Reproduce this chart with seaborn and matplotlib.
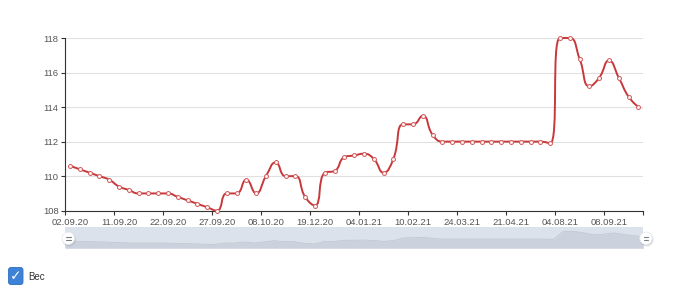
import numpy as np
import pandas as pd
import matplotlib
matplotlib.use("Agg")
import matplotlib.pyplot as plt
from matplotlib.path import Path
from matplotlib.patches import PathPatch, FancyBboxPatch, Circle
from matplotlib.lines import Line2D
from matplotlib.transforms import IdentityTransform
import seaborn as sns

# ---------------- data ----------------
weights = [110.6, 110.4, 110.2, 110.0, 109.8, 109.4, 109.2, 109.0, 109.0, 109.0,
           109.0, 108.8, 108.6, 108.4, 108.2, 108.0, 109.0, 109.0, 109.8, 109.0,
           110.0, 110.8, 110.0, 110.0, 108.8, 108.3, 110.2, 110.3, 111.1, 111.2,
           111.3, 111.0, 110.2, 111.0, 113.0, 113.0, 113.5, 112.4, 112.0, 112.0,
           112.0, 112.0, 112.0, 112.0, 112.0, 112.0, 112.0, 112.0, 112.0, 111.9,
           118.0, 118.0, 116.8, 115.2, 115.7, 116.7, 115.7, 114.6, 114.0]
tick_labels = ["02.09.20", "11.09.20", "22.09.20", "27.09.20", "08.10.20", "19.12.20",
               "04.01.21", "10.02.21", "24.03.21", "21.04.21", "04.08.21", "08.09.21"]
y_ticks = [108, 110, 112, 114, 116, 118]
series_name = "Вес"

label_step = 5
idx = list(range(len(weights)))
df = pd.DataFrame({"i": idx, "w": weights})

# ---------------- style ----------------
sns.set_theme(style="white")
plt.rcParams["font.family"] = ["Liberation Sans", "DejaVu Sans"]

W, H = 680, 291
fig = plt.figure(figsize=(W / 100, H / 100), dpi=100)
fig.patch.set_facecolor("white")

L, R, T, B = 65, 643.3, 38, 210.7
ax = fig.add_axes([L / W, 1 - B / H, (R - L) / W, (B - T) / H])
ax.set_facecolor("white")
ax.set_xlim(-0.5, len(weights) - 0.5)
ax.set_ylim(y_ticks[0], y_ticks[-1])

RED = "#c8383a"

# echarts-like smooth bezier line (control points from data, in pixel-proportional space)
def smooth_path(xs, ys, sx, sy, smooth=0.5):
    px = np.asarray(xs, float) * sx
    py = np.asarray(ys, float) * sy
    n = len(px)
    verts = [(px[0], py[0])]
    codes = [Path.MOVETO]
    c0x, c0y = px[0], py[0]
    for i in range(1, n):
        x, y = px[i], py[i]
        pvx, pvy = px[i - 1], py[i - 1]
        if i == n - 1:
            c1x, c1y = x, y
            ncx, ncy = x, y
        else:
            nx, ny = px[i + 1], py[i + 1]
            vx, vy = nx - pvx, ny - pvy
            lp = np.hypot(x - pvx, y - pvy)
            ln = np.hypot(nx - x, ny - y)
            r = ln / (ln + lp)
            ncx = x + vx * smooth * r
            ncy = y + vy * smooth * r
            ncx = max(min(ncx, max(nx, x)), min(nx, x))
            ncy = max(min(ncy, max(ny, y)), min(ny, y))
            vx, vy = ncx - x, ncy - y
            c1x = x - vx * lp / ln
            c1y = y - vy * lp / ln
            c1x = max(min(c1x, max(pvx, x)), min(pvx, x))
            c1y = max(min(c1y, max(pvy, y)), min(pvy, y))
            vx, vy = x - c1x, y - c1y
            ncx = x + vx * ln / lp
            ncy = y + vy * ln / lp
        verts += [(c0x, c0y), (c1x, c1y), (x, y)]
        codes += [Path.CURVE4] * 3
        c0x, c0y = ncx, ncy
    verts = np.array(verts)
    verts[:, 0] /= sx
    verts[:, 1] /= sy
    return Path(verts, codes)

sx = (R - L) / len(weights)
sy = (B - T) / (y_ticks[-1] - y_ticks[0])
path = smooth_path(idx, weights, sx, sy)
ax.add_patch(PathPatch(path, facecolor="none", edgecolor=RED, lw=1.4,
                       zorder=3, clip_on=False, capstyle="round", joinstyle="round"))

sns.scatterplot(data=df, x="i", y="w", ax=ax, s=8, color="#fff6f6",
                edgecolor="#d0595a", linewidth=0.7, zorder=4, clip_on=False, legend=False)

# axes styling
ax.set_xlabel("")
ax.set_ylabel("")
for s in ("top", "right"):
    ax.spines[s].set_visible(False)
for s in ("left", "bottom"):
    ax.spines[s].set_color("#333333")
    ax.spines[s].set_linewidth(0.8)
ax.set_yticks(y_ticks)
ax.set_yticklabels([str(v) for v in y_ticks])
ax.yaxis.grid(True, color="#e0e0e0", lw=0.8)
ax.set_axisbelow(True)
ax.tick_params(axis="y", direction="out", length=3, width=0.8, color="#333333",
               labelsize=6.8, labelcolor="#555555", pad=1.5, left=True)

label_pos = list(range(0, len(weights), label_step))[:len(tick_labels)]
ax.set_xticks(label_pos)
ax.set_xticklabels(tick_labels)
ax.tick_params(axis="x", which="major", length=0, labelsize=6.8,
               labelcolor="#555555", pad=5.5)
minor = [p - 0.5 for p in label_pos] + [len(weights) - 0.5]
ax.set_xticks(minor, minor=True)
ax.tick_params(axis="x", which="minor", direction="out", length=3, width=0.8,
               color="#333333", bottom=True)

# ---------------- data zoom slider ----------------
SB, ST = 248.3, 227.3
ax2 = fig.add_axes([L / W, 1 - SB / H, (R - L) / W, (SB - ST) / H])
ax2.set_facecolor("#dce2eb")
lo, hi = min(weights), max(weights)
off = (hi - lo) * 0.3
ax2.set_xlim(0, len(weights) - 1)
ax2.set_ylim(lo - off, hi + off)
ax2.fill_between(idx, weights, lo - off, color="#cbd2dd", lw=0)
sns.lineplot(data=df, x="i", y="w", ax=ax2, color="#bcc4cf", lw=0.5)
ax2.set_xticks([])
ax2.set_yticks([])
ax2.set_xlabel("")
ax2.set_ylabel("")
for s in ax2.spines.values():
    s.set_visible(False)

hy = H - 238.3
for hx in (68.3, 646.0):
    fig.add_artist(Circle((hx + 0.8, hy - 1.3), 6.8, transform=IdentityTransform(),
                          facecolor="#9aa3ae", alpha=0.35, lw=0))
    fig.add_artist(Circle((hx, hy), 6.2, transform=IdentityTransform(),
                          facecolor="white", edgecolor="#e4e7eb", lw=0.5))
    for dy in (1.2, -1.2):
        fig.add_artist(Line2D([hx - 2.2, hx + 2.2], [hy + dy, hy + dy],
                              transform=IdentityTransform(), color="#7a7f86", lw=0.8))

# ---------------- legend checkbox ----------------
fig.add_artist(FancyBboxPatch((8.5, H - 284.5), 14.5, 17,
                              boxstyle="round,pad=0,rounding_size=2.5",
                              transform=IdentityTransform(),
                              facecolor="#3d82d6", edgecolor="#2f6fc0", lw=0.6))
fig.text(15.8 / W, 1 - 276.5 / H, "✓", color="white", fontsize=10,
         ha="center", va="center", family=["DejaVu Sans"])
fig.text(28 / W, 1 - 276.5 / H, series_name, color="#333333", fontsize=7,
         ha="left", va="center")

fig.savefig("out.png", dpi=100, facecolor="white")
